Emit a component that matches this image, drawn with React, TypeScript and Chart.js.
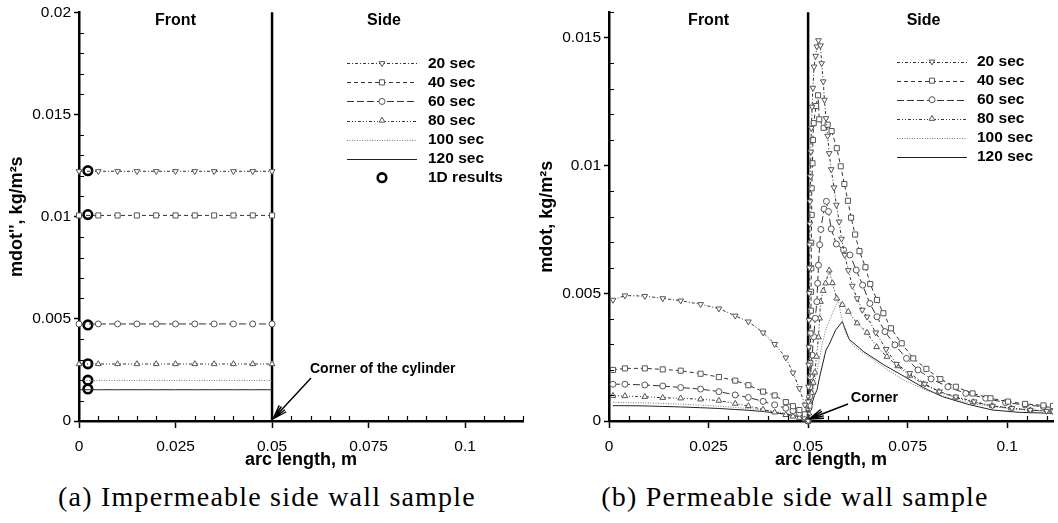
import React, { useEffect, useRef } from "react";
import { Chart, registerables } from "chart.js";
import { drawPoint } from "chart.js/helpers";

Chart.register(...registerables);

// ---------------- ticks / labels ----------------
const xTickValues = [0, 0.025, 0.05, 0.075, 0.1];
const xTickLabels = ["0", "0.025", "0.05", "0.075", "0.1"];
const yTickValuesA = [0, 0.005, 0.01, 0.015, 0.02];
const yTickLabelsA = ["0", "0.005", "0.01", "0.015", "0.02"];
const yTickValuesB = [0, 0.005, 0.01, 0.015];
const yTickLabelsB = ["0", "0.005", "0.01", "0.015"];
const seriesNames = ["20 sec", "40 sec", "60 sec", "80 sec", "100 sec", "120 sec"];
const oneDName = "1D results";
const regionNames = ["Front", "Side"];
const cornerX = 0.05;

// ---------------- panel (a): impermeable ----------------
const frontXA = [0, 0.005, 0.01, 0.015, 0.02, 0.025, 0.03, 0.035, 0.04, 0.045, 0.05];
const a20 = [0.01222, 0.01222, 0.01222, 0.01222, 0.01222, 0.01222, 0.01222, 0.01222, 0.01222, 0.01222, 0.01222];
const a40 = [0.01006, 0.01006, 0.01006, 0.01006, 0.01006, 0.01006, 0.01006, 0.01006, 0.01006, 0.01006, 0.01006];
const a60 = [0.00475, 0.00475, 0.00475, 0.00475, 0.00475, 0.00475, 0.00475, 0.00475, 0.00475, 0.00475, 0.00475];
const a80 = [0.00279, 0.00279, 0.00279, 0.00279, 0.00279, 0.00279, 0.00279, 0.00279, 0.00279, 0.00279, 0.00279];
const a100 = [0.00198, 0.00198, 0.00198, 0.00198, 0.00198, 0.00198, 0.00198, 0.00198, 0.00198, 0.00198, 0.00198];
const a120 = [0.00153, 0.00153, 0.00153, 0.00153, 0.00153, 0.00153, 0.00153, 0.00153, 0.00153, 0.00153, 0.00153];
const oneDX = [0.0023, 0.0023, 0.0023, 0.0023, 0.0023, 0.0023];
const oneDY = [0.01225, 0.0101, 0.0047, 0.0028, 0.002, 0.00157];

// ---------------- panel (b): permeable ----------------
const frontXB = [0.001, 0.004, 0.009, 0.0135, 0.018, 0.023, 0.0276, 0.0317, 0.035, 0.0387, 0.0416, 0.0444, 0.0462, 0.0478, 0.0492, 0.05];
const b20F = [0.00474, 0.00491, 0.00489, 0.0048, 0.00471, 0.00457, 0.0044, 0.00412, 0.00389, 0.00346, 0.00301, 0.00248, 0.00189, 0.00128, 0.00063, 0];
const b40F = [0.002, 0.00206, 0.00206, 0.00202, 0.00197, 0.00185, 0.00172, 0.00158, 0.0014, 0.00115, 0.001, 0.00074, 0.00058, 0.00043, 0.00026, 0];
const b60F = [0.00144, 0.00144, 0.00141, 0.00137, 0.00131, 0.00125, 0.00115, 0.00102, 0.00092, 0.00077, 0.00063, 0.0005, 0.0004, 0.0003, 0.00016, 0];
const b80F = [0.00099, 0.00098, 0.00095, 0.00091, 0.00089, 0.00085, 0.0008, 0.00068, 0.00059, 0.00045, 0.00034, 0.00024, 0.00018, 0.00013, 0.00007, 0];
const b100F = [0.00073, 0.00072, 0.00071, 0.00069, 0.00066, 0.00062, 0.00058, 0.00053, 0.00049, 0.00043, 0.00038, 0.00031, 0.00026, 0.0002, 0.0001, 0];
const b120F = [0.0006, 0.0006, 0.00059, 0.00057, 0.00055, 0.00052, 0.00049, 0.00045, 0.00042, 0.00037, 0.00032, 0.00027, 0.00022, 0.00017, 0.00009, 0];

const s20X = [0.05005, 0.0501, 0.05015, 0.0502, 0.05025, 0.0503, 0.05035, 0.0504, 0.05045, 0.0505, 0.0506, 0.0507, 0.0508, 0.051, 0.0512, 0.0515, 0.0519, 0.0522, 0.0526, 0.0531, 0.0534, 0.0538, 0.0541, 0.0545, 0.0549, 0.0553, 0.0558, 0.0565, 0.0571, 0.0578, 0.0584, 0.0592, 0.0601, 0.0611, 0.0623, 0.0636, 0.0648, 0.067, 0.0696, 0.0722, 0.0755, 0.0793, 0.083, 0.0871, 0.0917, 0.0963, 0.1012, 0.1058, 0.1099, 0.1115];
const s20Y = [0.00076, 0.00134, 0.0022, 0.0029, 0.00395, 0.005, 0.006, 0.0069, 0.00772, 0.00859, 0.00957, 0.01054, 0.01147, 0.0123, 0.01304, 0.01387, 0.01429, 0.01466, 0.0149, 0.0147, 0.014, 0.01329, 0.01257, 0.01185, 0.01116, 0.01048, 0.00985, 0.00914, 0.00846, 0.0078, 0.00713, 0.0065, 0.0059, 0.00529, 0.0048, 0.00435, 0.00408, 0.00346, 0.00281, 0.00223, 0.00187, 0.00145, 0.00115, 0.00095, 0.00076, 0.00059, 0.0005, 0.00043, 0.00039, 0.00037];
const s40X = [0.05035, 0.0505, 0.05055, 0.0506, 0.0507, 0.05075, 0.0508, 0.0508, 0.0509, 0.0509, 0.0511, 0.0512, 0.0514, 0.052, 0.0525, 0.0528, 0.0539, 0.0549, 0.0559, 0.0572, 0.0582, 0.0591, 0.06, 0.0608, 0.0618, 0.0629, 0.0644, 0.0656, 0.0673, 0.0689, 0.0708, 0.0735, 0.0764, 0.0797, 0.0832, 0.0871, 0.0913, 0.0958, 0.1002, 0.1045, 0.1091, 0.1115];
const s40Y = [0.0006, 0.00134, 0.00226, 0.00343, 0.00432, 0.00506, 0.00598, 0.00698, 0.00807, 0.00911, 0.01009, 0.011, 0.01166, 0.01233, 0.01275, 0.01181, 0.01148, 0.0116, 0.01135, 0.01068, 0.00997, 0.00928, 0.00862, 0.00796, 0.0073, 0.00665, 0.00602, 0.00536, 0.00474, 0.00422, 0.00363, 0.00304, 0.00245, 0.00204, 0.00164, 0.00134, 0.00108, 0.00089, 0.00076, 0.00067, 0.00061, 0.00059];
const s60X = [0.0502, 0.0504, 0.0506, 0.051, 0.0514, 0.0518, 0.0522, 0.0524, 0.0526, 0.0529, 0.0532, 0.054, 0.0546, 0.0551, 0.0558, 0.0571, 0.0589, 0.0605, 0.0621, 0.0637, 0.0655, 0.0673, 0.0693, 0.0718, 0.0747, 0.0776, 0.0809, 0.0851, 0.0896, 0.0946, 0.0996, 0.1045, 0.1091, 0.1115];
const s60Y = [0.0005, 0.00095, 0.00173, 0.00258, 0.0033, 0.00402, 0.00467, 0.00539, 0.0061, 0.0069, 0.0075, 0.0083, 0.0086, 0.0082, 0.00752, 0.00693, 0.0067, 0.0065, 0.00591, 0.00532, 0.0046, 0.00408, 0.0035, 0.00298, 0.00245, 0.002, 0.00165, 0.00134, 0.00108, 0.00089, 0.00072, 0.00063, 0.00056, 0.00053];
const s80X = [0.0502, 0.0505, 0.0509, 0.0513, 0.0517, 0.0521, 0.0526, 0.0529, 0.0531, 0.0538, 0.0544, 0.0553, 0.0561, 0.0572, 0.0586, 0.0601, 0.0623, 0.0648, 0.0672, 0.0698, 0.0725, 0.0755, 0.079, 0.0828, 0.087, 0.0915, 0.0962, 0.101, 0.1058, 0.1115];
const s80Y = [0.0003, 0.0007, 0.0011, 0.0015, 0.0019, 0.00252, 0.00328, 0.00402, 0.00467, 0.0051, 0.00539, 0.0059, 0.0054, 0.0048, 0.00455, 0.00428, 0.00383, 0.00346, 0.0029, 0.00252, 0.00215, 0.00178, 0.00145, 0.00115, 0.00092, 0.00074, 0.0006, 0.0005, 0.00043, 0.00038];
const s100X = [0.0501, 0.0505, 0.051, 0.0515, 0.052, 0.0528, 0.0535, 0.0545, 0.0558, 0.0575, 0.0585, 0.0594, 0.061, 0.0635, 0.0665, 0.07, 0.074, 0.0797, 0.085, 0.09, 0.0963, 0.103, 0.1115];
const s100Y = [0.0002, 0.0006, 0.001, 0.0014, 0.0018, 0.0024, 0.003, 0.0036, 0.0041, 0.00474, 0.004, 0.00343, 0.003, 0.0027, 0.00239, 0.002, 0.0016, 0.0012, 0.00092, 0.00072, 0.00056, 0.00045, 0.00036];
const s120X = [0.0501, 0.0505, 0.051, 0.0516, 0.0522, 0.053, 0.0545, 0.0553, 0.0569, 0.0586, 0.0603, 0.064, 0.069, 0.0743, 0.079, 0.0838, 0.09, 0.0963, 0.103, 0.1115];
const s120Y = [0.0001, 0.0004, 0.0007, 0.001, 0.0012, 0.0018, 0.00278, 0.003, 0.00356, 0.00389, 0.0032, 0.00271, 0.0022, 0.00173, 0.0013, 0.00095, 0.00066, 0.00043, 0.00034, 0.0003];

// ---------------- styles ----------------
const FONT = "'Liberation Sans', Arial, Helvetica, sans-serif";
const seriesStyles = [
  { dash: [3, 2, 1, 2], point: "triangle", rot: 180, r: 3.3, line: "#333" },
  { dash: [4, 3], point: "rect", rot: 0, r: 3.6, line: "#333" },
  { dash: [7, 3], point: "circle", rot: 0, r: 3, line: "#333" },
  { dash: [3, 2, 1, 2, 1, 2], point: "triangle", rot: 0, r: 3.3, line: "#333" },
  { dash: [1, 1.5], point: false, rot: 0, r: 0, line: "#777" },
  { dash: [], point: false, rot: 0, r: 0, line: "#222" },
];

function toPoints(xs: number[], ys: number[]) {
  return xs.map((x, i) => ({ x, y: ys[i] }));
}

function seriesDataset(i: number, xs: number[], ys: number[], clip: any) {
  const st = seriesStyles[i];
  return {
    label: seriesNames[i],
    data: toPoints(xs, ys),
    showLine: true,
    borderColor: st.line,
    borderWidth: 1,
    borderDash: st.dash,
    tension: 0,
    pointStyle: st.point || "circle",
    pointRotation: st.rot,
    pointRadius: st.point ? st.r : 0,
    pointBorderColor: "#555",
    pointBackgroundColor: "#fff",
    pointBorderWidth: 1,
    clip,
  };
}

const seriesA = [a20, a40, a60, a80, a100, a120];
const datasetsA = [
  ...seriesA.map((ys, i) => seriesDataset(i, frontXA, ys, false)),
  {
    label: oneDName,
    data: toPoints(oneDX, oneDY),
    showLine: false,
    pointStyle: "circle",
    pointRadius: 4.3,
    pointBorderWidth: 2.6,
    pointBorderColor: "#000",
    pointBackgroundColor: "#fff",
    clip: false,
  },
];

const frontB = [b20F, b40F, b60F, b80F, b100F, b120F];
const sideBX = [s20X, s40X, s60X, s80X, s100X, s120X];
const sideBY = [s20Y, s40Y, s60Y, s80Y, s100Y, s120Y];
const clipB = { left: 6, top: 6, right: 0, bottom: 6 };
const datasetsB = frontB.map((fy, i) =>
  seriesDataset(i, frontXB.concat(sideBX[i]), fy.concat(sideBY[i]), clipB)
);

const legendItemsA = [
  ...seriesNames.map((n, i) => ({ text: n, style: seriesStyles[i] as any, line: true })),
  { text: oneDName, style: { point: "circle", rot: 0, r: 4.3, oneD: true } as any, line: false },
];
const legendItemsB = seriesNames.map((n, i) => ({ text: n, style: seriesStyles[i] as any, line: true }));

const panelA = {
  datasets: datasetsA,
  xMax: 0.115,
  yMax: 0.02,
  padRight: 7,
  yTicks: yTickValuesA,
  yLabels: yTickLabelsA,
  yTitle: "mdot'', kg/m²s",
  legend: legendItemsA,
  legX: [347, 417, 382, 428],
  legY: 63.3,
  legDy: 19.07,
  note: { text: "Corner of the cylinder", tx: 310, ty: 369, tailX: 311, tailY: 378, size: 14 },
};
const panelB = {
  datasets: datasetsB,
  xMax: 0.1115,
  yMax: 0.016,
  padRight: 0,
  yTicks: yTickValuesB,
  yLabels: yTickLabelsB,
  yTitle: "mdot, kg/m²s",
  legend: legendItemsB,
  legX: [367, 437, 402, 447],
  legY: 61.7,
  legDy: 19,
  note: { text: "Corner", tx: 320.7, ty: 398, tailX: 318, tailY: 404, size: 14.5 },
};

function makeDecor(cfg: any) {
  return {
    id: "decor",
    beforeDatasetsDraw(chart: any) {
      const { ctx, chartArea: ca, scales } = chart;
      const px = scales.x.getPixelForValue(cornerX);
      ctx.save();
      ctx.strokeStyle = "#000";
      ctx.lineWidth = 2.5;
      ctx.beginPath();
      ctx.moveTo(px, ca.bottom);
      ctx.lineTo(px, ca.top);
      ctx.stroke();
      ctx.restore();
    },
    afterDraw(chart: any) {
      const { ctx, chartArea: ca, scales } = chart;
      const xs = scales.x;
      const ys = scales.y;
      ctx.save();
      // minor ticks (inside)
      ctx.strokeStyle = "#000";
      ctx.lineWidth = 1.2;
      ctx.setLineDash([]);
      ctx.beginPath();
      const nx = Math.floor(cfg.xMax / 0.005 + 1e-6);
      for (let k = 1; k <= nx; k++) {
        if (k % 5 === 0) continue;
        const p = Math.round(xs.getPixelForValue(k * 0.005)) + 0.5;
        ctx.moveTo(p, ca.bottom);
        ctx.lineTo(p, ca.bottom - 5);
      }
      const ny = Math.floor(cfg.yMax / 0.001 + 1e-6);
      for (let k = 1; k <= ny; k++) {
        if (k % 5 === 0) continue;
        const p = Math.round(ys.getPixelForValue(k * 0.001)) + 0.5;
        ctx.moveTo(ca.left, p);
        ctx.lineTo(ca.left + 5, p);
      }
      ctx.stroke();

      // region labels
      ctx.fillStyle = "#000";
      ctx.font = `bold 16px ${FONT}`;
      ctx.textAlign = "center";
      ctx.textBaseline = "middle";
      ctx.fillText(regionNames[0], xs.getPixelForValue(0.025), 21);
      ctx.fillText(regionNames[1], xs.getPixelForValue(0.079), 21);

      // legend
      const [l0, l1, mx, tx] = cfg.legX;
      cfg.legend.forEach((item: any, i: number) => {
        const y = cfg.legY + i * cfg.legDy;
        const st = item.style;
        if (item.line) {
          ctx.strokeStyle = st.line;
          ctx.lineWidth = 1;
          ctx.setLineDash(st.dash);
          ctx.beginPath();
          ctx.moveTo(l0, Math.round(y) + 0.5);
          ctx.lineTo(l1, Math.round(y) + 0.5);
          ctx.stroke();
          ctx.setLineDash([]);
        }
        if (st.point) {
          ctx.fillStyle = "#fff";
          ctx.strokeStyle = st.oneD ? "#000" : "#555";
          const bw = st.oneD ? 2.6 : 1;
          ctx.lineWidth = bw;
          drawPoint(ctx, { pointStyle: st.point, rotation: st.rot, radius: st.r, borderWidth: bw }, mx, y);
        }
        ctx.fillStyle = "#000";
        ctx.font = `bold 15.5px ${FONT}`;
        ctx.textAlign = "left";
        ctx.textBaseline = "middle";
        ctx.fillText(item.text, tx, y);
      });

      // corner annotation
      const n = cfg.note;
      const tipX = xs.getPixelForValue(cornerX) + 1;
      const tipY = ys.getPixelForValue(0) - 2;
      ctx.strokeStyle = "#000";
      ctx.lineWidth = 1.4;
      ctx.beginPath();
      ctx.moveTo(n.tailX, n.tailY);
      ctx.lineTo(tipX, tipY);
      const ang = Math.atan2(tipY - n.tailY, tipX - n.tailX);
      [-0.32, -0.16, 0.16, 0.32].forEach((a) => {
        ctx.moveTo(tipX, tipY);
        ctx.lineTo(tipX - 15 * Math.cos(ang + a), tipY - 15 * Math.sin(ang + a));
      });
      ctx.stroke();
      ctx.fillStyle = "#000";
      ctx.font = `bold ${n.size}px ${FONT}`;
      ctx.textAlign = "left";
      ctx.textBaseline = "middle";
      ctx.fillText(n.text, n.tx, n.ty);
      ctx.restore();
    },
  };
}

function buildConfig(cfg: any): any {
  const tickFont = { family: FONT, size: 15.5 };
  const titleFont = { family: FONT, size: 18, weight: "bold" };
  return {
    type: "scatter",
    data: { datasets: cfg.datasets },
    options: {
      animation: false,
      responsive: false,
      maintainAspectRatio: false,
      layout: { padding: { left: 0, right: cfg.padRight, top: 12, bottom: 0 } },
      plugins: { legend: { display: false }, tooltip: { enabled: false } },
      scales: {
        x: {
          type: "linear",
          min: 0,
          max: cfg.xMax,
          afterBuildTicks: (s: any) => {
            s.ticks = xTickValues.map((v) => ({ value: v }));
          },
          afterFit: (s: any) => {
            s.height = 54;
          },
          ticks: {
            callback: (_v: any, i: number) => xTickLabels[i],
            font: tickFont,
            color: "#000",
            padding: 9,
            maxRotation: 0,
            autoSkip: false,
          },
          grid: { drawOnChartArea: false, drawTicks: true, tickLength: 7, tickWidth: 1.5, tickColor: "#000" },
          border: { display: true, width: 2.5, color: "#000" },
          title: { display: true, text: "arc length, m", font: titleFont, color: "#000", padding: { top: 0, bottom: 4 } },
        },
        y: {
          type: "linear",
          min: 0,
          max: cfg.yMax,
          afterBuildTicks: (s: any) => {
            s.ticks = cfg.yTicks.map((v: number) => ({ value: v }));
          },
          afterFit: (s: any) => {
            s.width = 79;
          },
          ticks: {
            callback: (_v: any, i: number) => cfg.yLabels[i],
            font: tickFont,
            color: "#000",
            padding: 3,
            autoSkip: false,
          },
          grid: { drawOnChartArea: false, drawTicks: true, tickLength: 5, tickWidth: 1.5, tickColor: "#000" },
          border: { display: true, width: 2.5, color: "#000" },
          title: { display: true, text: cfg.yTitle, font: titleFont, color: "#000", padding: { top: 6, bottom: 0 } },
        },
      },
    },
    plugins: [makeDecor(cfg)],
  };
}

function Panel({ cfg, left, width }: { cfg: any; left: number; width: number }) {
  const ref = useRef<HTMLCanvasElement | null>(null);
  useEffect(() => {
    if (!ref.current) return;
    const chart = new Chart(ref.current, buildConfig(cfg));
    return () => chart.destroy();
  }, []);
  return (
    <canvas
      ref={ref}
      width={width}
      height={475}
      style={{ position: "absolute", left, top: 0, width, height: 475 }}
    />
  );
}

const captionStyle: any = {
  position: "absolute",
  top: 481,
  textAlign: "center",
  fontFamily: "'Liberation Serif', 'Times New Roman', serif",
  fontSize: 28,
  letterSpacing: "1.2px",
  lineHeight: "32px",
  color: "#000",
  whiteSpace: "nowrap",
};

export default function App() {
  return (
    <div style={{ position: "fixed", left: 0, top: 0, width: 1058, height: 523, background: "#fff", overflow: "hidden" }}>
      <Panel cfg={panelA} left={0} width={530} />
      <Panel cfg={panelB} left={530} width={528} />
      <div style={{ ...captionStyle, left: 0, width: 534 }}>(a) Impermeable side wall sample</div>
      <div style={{ ...captionStyle, left: 530, width: 530 }}>(b) Permeable side wall sample</div>
    </div>
  );
}
